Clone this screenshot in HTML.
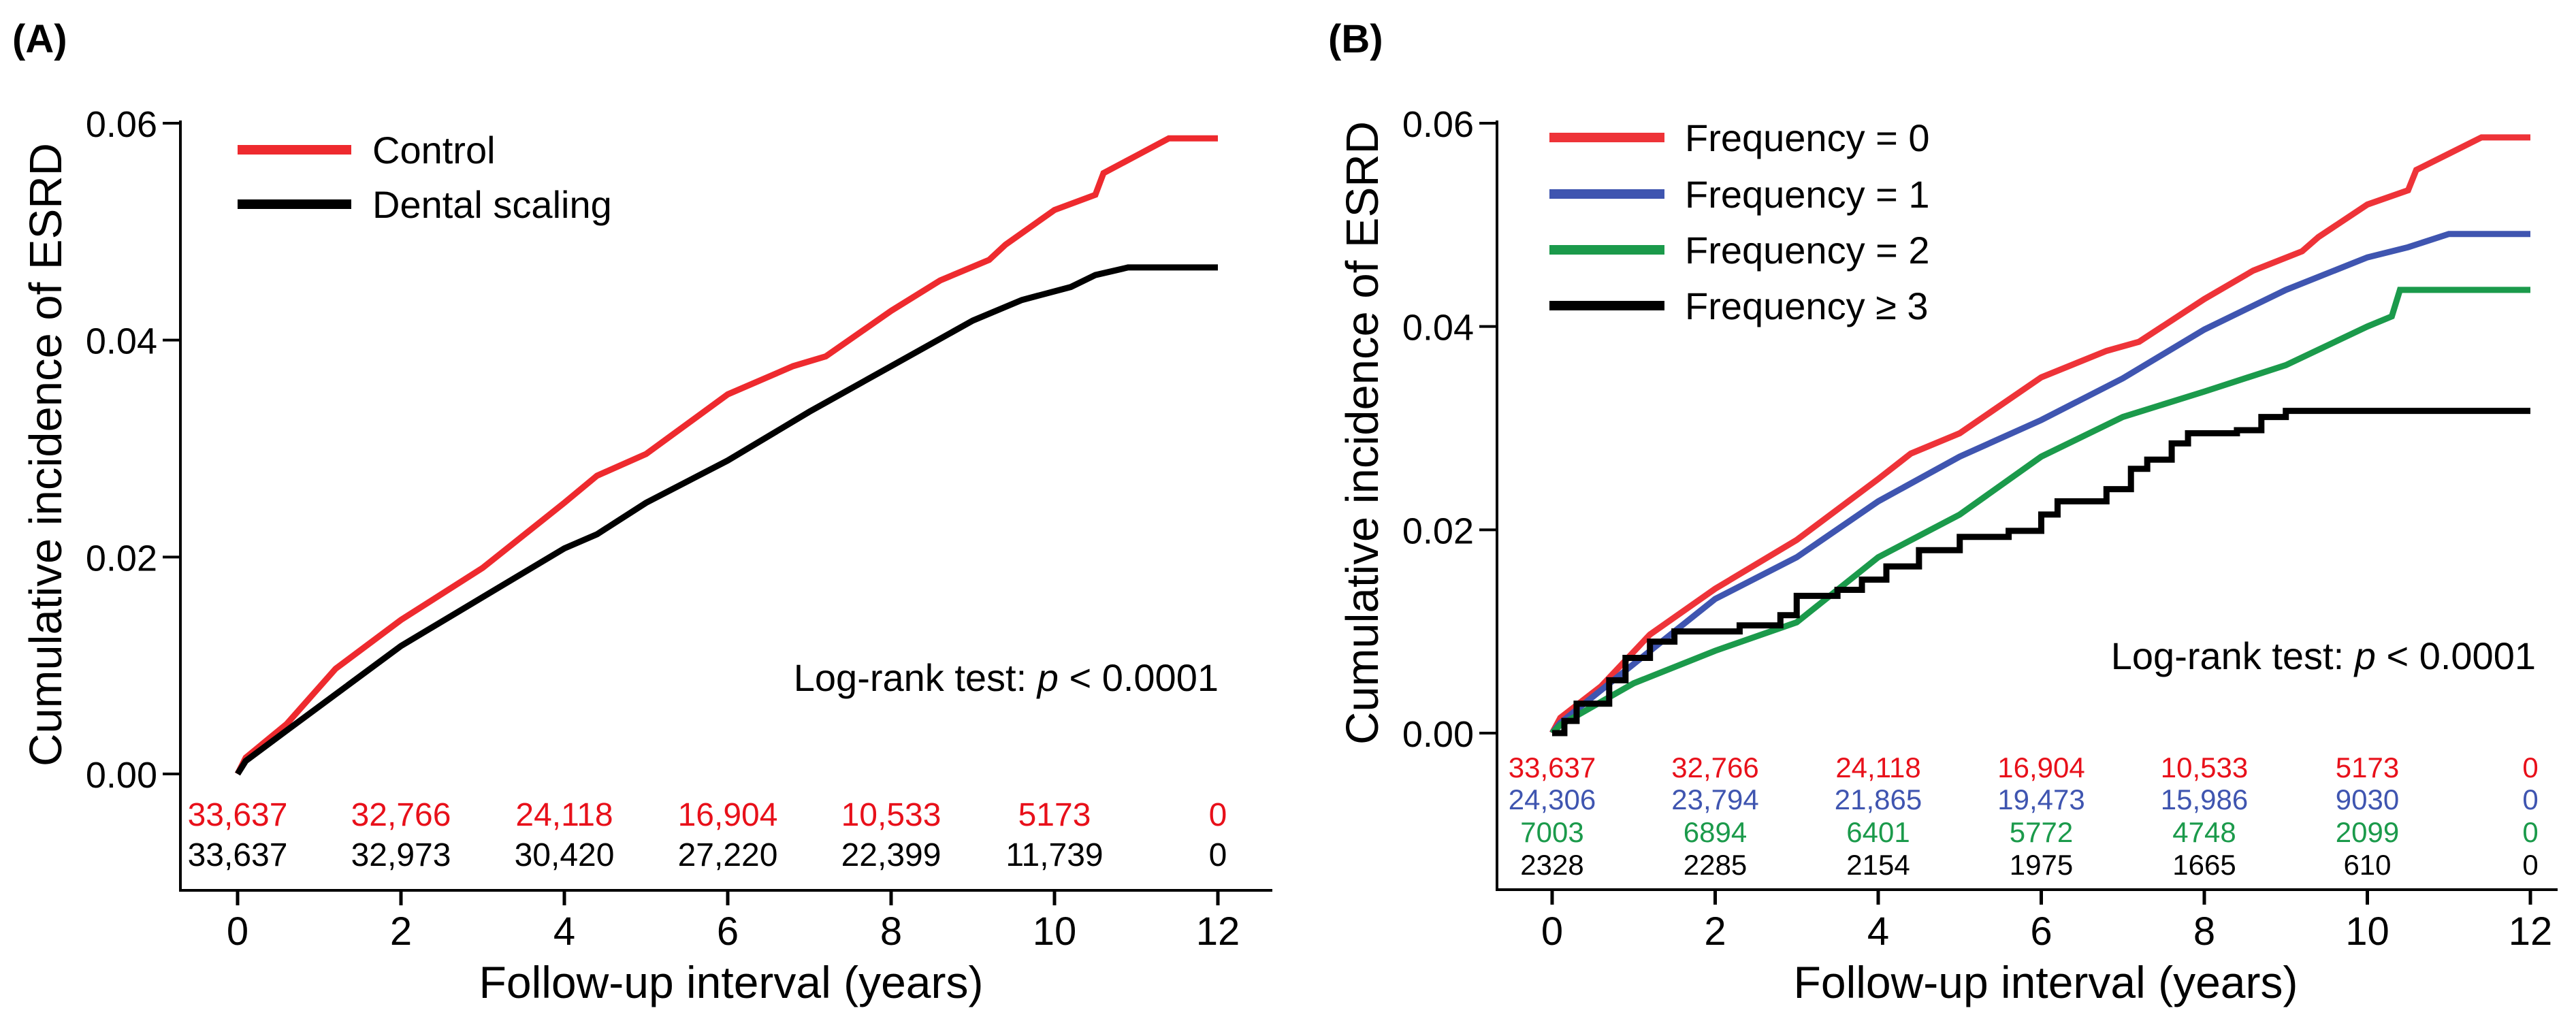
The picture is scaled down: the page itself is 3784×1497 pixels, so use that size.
<!DOCTYPE html>
<html><head><meta charset="utf-8"><style>
html,body{margin:0;padding:0;background:#fff;}
svg{display:block;font-family:"Liberation Sans",Arial,sans-serif;}
</style></head><body>
<svg id="fig" width="3784" height="1497" viewBox="0 0 3784 1497" xmlns="http://www.w3.org/2000/svg">
<text x="18" y="77" font-size="58" font-weight="bold">(A)</text>
<text x="1951" y="77" font-size="58" font-weight="bold">(B)</text>
<g id="panelA"></g>
<g id="panelB"></g>
</svg>
<script>
// ---------- Panel A data ----------
const aTicksX = [0,2,4,6,8,10,12];
const aTicksY = [0, 0.02, 0.04, 0.06];
const aTickYLabels = ["0.00","0.02","0.04","0.06"];
const aControlT = [0,0.1,0.6,1.2,2,3,4,4.4,5,6,6.8,7.2,8,8.6,9.2,9.4,10,10.5,10.6,11,11.4,12];
const aControlV = [0,0.0015,0.0046,0.0097,0.0142,0.019,0.025,0.0275,0.0295,0.035,0.0376,0.0385,0.0427,0.0455,0.0474,0.0488,0.052,0.0534,0.0554,0.057,0.0586,0.0586];
const aScalingT = [0,0.1,0.6,2,3,4,4.4,5,6,7,8,9,9.6,10.2,10.5,10.9,12];
const aScalingV = [0,0.0012,0.004,0.0118,0.0163,0.0208,0.0221,0.025,0.0289,0.0334,0.0376,0.0418,0.0437,0.0449,0.046,0.0467,0.0467];
const aRiskControl = ["33,637","32,766","24,118","16,904","10,533","5173","0"];
const aRiskScaling = ["33,637","32,973","30,420","27,220","22,399","11,739","0"];

// ---------- Panel B data ----------
const bF0T = aControlT;
const bF0V = aControlV;
const bF1T = [0,0.1,1,2,3,4,5,6,7,8,9,10,10.5,11,12];
const bF1V = [0,0.001,0.0068,0.0132,0.0173,0.0228,0.0272,0.0308,0.0349,0.0397,0.0436,0.0468,0.0478,0.0491,0.0491];
const bF2T = [0,0.1,1,2,3,4,5,6,7,8,9,9.5,10,10.3,10.4,12];
const bF2V = [0,0.0008,0.0049,0.0081,0.0109,0.0173,0.0215,0.0272,0.0311,0.0336,0.0362,0.0381,0.040,0.041,0.0436,0.0436];
const bF3T = [0,0.15,0.3,0.7,0.9,1.2,1.5,2.3,2.8,3,3.5,3.8,4.1,4.5,5,5.6,6,6.2,6.8,7.1,7.3,7.6,7.8,8.4,8.7,9,12];
const bF3V = [0,0.0012,0.0029,0.0052,0.0074,0.009,0.010,0.0106,0.0116,0.0135,0.0141,0.0151,0.0164,0.018,0.0193,0.0199,0.0215,0.0228,0.024,0.026,0.0269,0.0285,0.0295,0.0298,0.0311,0.0317,0.0317];
const bRisk0 = ["33,637","32,766","24,118","16,904","10,533","5173","0"];
const bRisk1 = ["24,306","23,794","21,865","19,473","15,986","9030","0"];
const bRisk2 = ["7003","6894","6401","5772","4748","2099","0"];
const bRisk3 = ["2328","2285","2154","1975","1665","610","0"];

const NS = "http://www.w3.org/2000/svg";
function mk(parent, tag, attrs, text){
  const e = document.createElementNS(NS, tag);
  for (const k in attrs) e.setAttribute(k, attrs[k]);
  if (text !== undefined) e.textContent = text;
  parent.appendChild(e);
  return e;
}

function drawPanel(g, cfg){
  const sx = t => cfg.x0 + (t/12)*(cfg.x12 - cfg.x0);
  const sy = v => cfg.y0 + (v/0.06)*(cfg.y6 - cfg.y0);
  // axes
  const ya = mk(g,'line',{x1:cfg.ax,y1:cfg.y6-4,x2:cfg.ax,y2:cfg.xaxisY,stroke:'#000','stroke-width':4});
  
  
  const xa = mk(g,'line',{x1:cfg.ax-2,y1:cfg.xaxisY,x2:cfg.axEnd,y2:cfg.xaxisY,stroke:'#000','stroke-width':4});
  
  
  aTicksY.forEach((v,i)=>{
    const y = sy(v);
    const tk = mk(g,'line',{x1:cfg.ax-26,y1:y,x2:cfg.ax,y2:y,stroke:'#000','stroke-width':4});
    
    
    const tl = mk(g,'text',{x:cfg.ax-34,y:y+20,'font-size':54,'text-anchor':'end'},aTickYLabels[i]);
    
    
  });
  aTicksX.forEach(t=>{
    const x = sx(t);
    const tk = mk(g,'line',{x1:x,y1:cfg.xaxisY,x2:x,y2:cfg.xaxisY+22,stroke:'#000','stroke-width':5});
    
    
    const tl = mk(g,'text',{x:x,y:1388,'font-size':58,'text-anchor':'middle'},String(t));
    
    
  });
  const xt = mk(g,'text',{x:cfg.xtitleX,y:1466,'font-size':66,'text-anchor':'middle'},'Follow-up interval (years)');
  
  
  const yt = mk(g,'text',{x:0,y:0,'font-size':67,'text-anchor':'middle',transform:`translate(${cfg.ytitleX},${cfg.ytitleY}) rotate(-90)`},'Cumulative incidence of ESRD');
  
  
  // series
  cfg.series.forEach(s=>{
    let d = '';
    s.t.forEach((t,i)=>{
      const x = sx(t), y = sy(s.v[i]);
      if (i===0) d += `M${x},${y}`;
      else if (s.step) d += `H${x}V${y}`;
      else d += `L${x},${y}`;
    });
    const p = mk(g,'path',{d:d,fill:'none',stroke:s.color,'stroke-width':9,'stroke-linejoin':'miter'});
    
    
  });
  // legend
  cfg.series.forEach((s,i)=>{
    const y = cfg.legY[i];
    const ll = mk(g,'line',{x1:cfg.legX1,y1:y,x2:cfg.legX2,y2:y,stroke:s.color,'stroke-width':14});
    
    
    const lt = mk(g,'text',{x:cfg.legTextX,y:y+20,'font-size':56},s.label);
    
    
  });
  // log-rank
  const lr = mk(g,'text',{x:cfg.lrX,y:cfg.lrY,'font-size':56,'text-anchor':'end'});
  
  
  mk(lr,'tspan',{},'Log-rank test: ');
  mk(lr,'tspan',{'font-style':'italic'},'p');
  mk(lr,'tspan',{},' < 0.0001');
  // numbers at risk
  cfg.risk.forEach((row,ri)=>{
    row.vals.forEach((txt,i)=>{
      const n = mk(g,'text',{x:sx(aTicksX[i]),y:cfg.riskY[ri],'font-size':cfg.riskFont,'text-anchor':'middle',fill:row.color},txt);
      
      
    });
  });
}

drawPanel(document.getElementById('panelA'),{
  ax:265, axEnd:1869, x0:349, x12:1789, y0:1137, y6:181, xaxisY:1308,
  xtitleX:1074, ytitleX:90, ytitleY:668,
  series:[
    {t:aScalingT,v:aScalingV,color:'#000',name:'dental-scaling-curve',label:'Dental scaling'},
    {t:aControlT,v:aControlV,color:'#ee2a2e',name:'control-curve',label:'Control'}
  ].reverse(),
  legY:[220,300], legX1:349, legX2:516, legTextX:547,
  lrX:1790, lrY:1015,
  risk:[{vals:aRiskControl,color:'#e8101a'},{vals:aRiskScaling,color:'#000'}],
  riskY:[1213,1272], riskFont:48
});

drawPanel(document.getElementById('panelB'),{
  ax:2199, axEnd:3757, x0:2280, x12:3717, y0:1077, y6:181, xaxisY:1307,
  xtitleX:3005, ytitleX:2024, ytitleY:636,
  series:[
    {t:bF0T,v:bF0V,color:'#ee3338',name:'frequency-0-curve',label:'Frequency = 0'},
    {t:bF1T,v:bF1V,color:'#3f55b0',name:'frequency-1-curve',label:'Frequency = 1'},
    {t:bF2T,v:bF2V,color:'#1b9a4b',name:'frequency-2-curve',label:'Frequency = 2'},
    {t:bF3T,v:bF3V,color:'#000',name:'frequency-3plus-curve',label:'Frequency \u2265 3',step:true}
  ],
  legY:[202,285,367,449], legX1:2276, legX2:2445, legTextX:2475,
  lrX:3725, lrY:983,
  risk:[{vals:bRisk0,color:'#e8101a'},{vals:bRisk1,color:'#3f55b0'},{vals:bRisk2,color:'#1b9a4b'},{vals:bRisk3,color:'#000'}],
  riskY:[1142,1189,1237,1285], riskFont:42
});
</script>
</body></html>
